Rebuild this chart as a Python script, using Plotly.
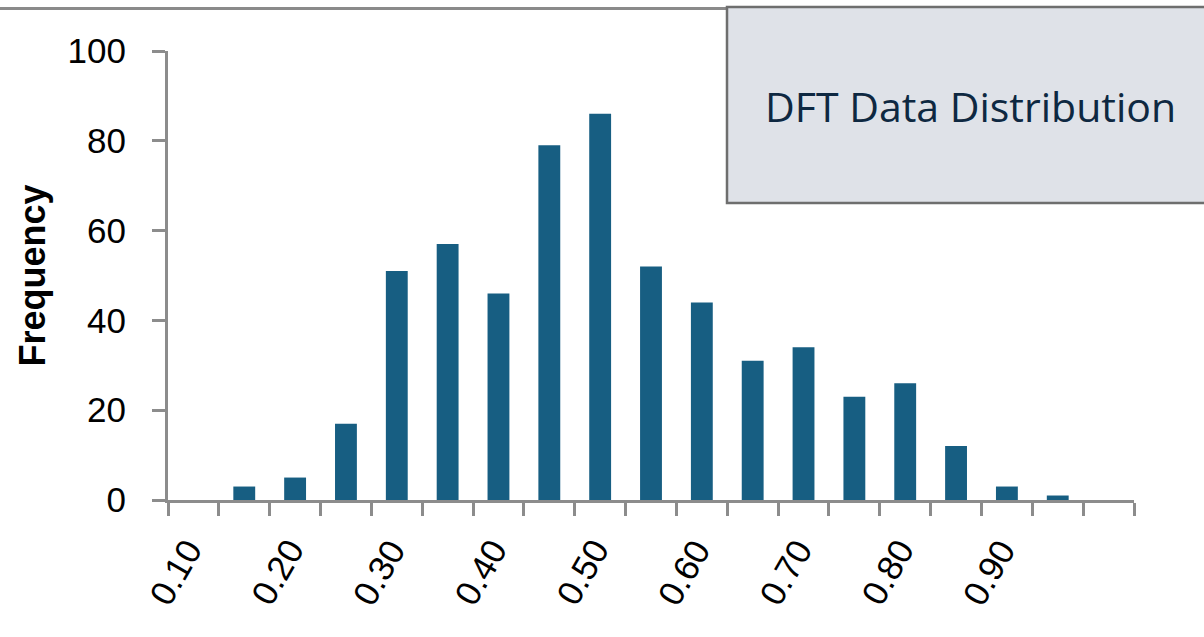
import plotly.graph_objects as go

# Bin edges (x axis ticks) and frequencies per bin
bin_edges = [0.10, 0.15, 0.20, 0.25, 0.30, 0.35, 0.40, 0.45, 0.50, 0.55,
             0.60, 0.65, 0.70, 0.75, 0.80, 0.85, 0.90, 0.95, 1.00, 1.05]
frequencies = [0, 3, 5, 17, 51, 57, 46, 79, 86, 52, 44, 31, 34, 23, 26, 12, 3, 1, 0]
label_values = [0.10, 0.20, 0.30, 0.40, 0.50, 0.60, 0.70, 0.80, 0.90]
label_texts = ["0.10", "0.20", "0.30", "0.40", "0.50", "0.60", "0.70", "0.80", "0.90"]
y_ticks = [0, 20, 40, 60, 80, 100]

W, H = 1204, 637
L, R, T, B = 168, 1134, 51, 500  # plot area in pixels


def px(x):
    return (x - L) / (R - L)


def py(y):
    return (B - y) / (B - T)


bin_w = bin_edges[1] - bin_edges[0]
centers = [e + bin_w / 2 for e in bin_edges[:-1]]

FONT = "Liberation Sans, Arial, sans-serif"

fig = go.Figure()
fig.add_trace(go.Bar(
    x=centers, y=frequencies, width=bin_w * 0.43,
    marker=dict(color="#175e82", line=dict(width=0)),
    showlegend=False,
))

axis_col = "#8c8c8c"
fig.update_layout(
    width=W, height=H,
    margin=dict(l=L, r=W - R, t=T, b=H - B, autoexpand=False),
    paper_bgcolor="white", plot_bgcolor="white",
    font=dict(family=FONT, color="black"),
    xaxis=dict(
        range=[bin_edges[0], bin_edges[-1]],
        tickvals=bin_edges, ticktext=["" for _ in bin_edges],
        ticks="outside", ticklen=13, tickwidth=3, tickcolor=axis_col,
        showline=True, linecolor=axis_col, linewidth=3,
        showgrid=False, zeroline=False,
    ),
    yaxis=dict(
        range=[0, 100], tickvals=y_ticks,
        ticks="outside", ticklen=13, tickwidth=3, tickcolor=axis_col,
        showline=True, linecolor=axis_col, linewidth=3,
        showgrid=False, zeroline=False,
        tickfont=dict(size=35, family=FONT),
        ticklabelstandoff=19,
        title=dict(text="<b>Frequency</b>", standoff=11,
                   font=dict(size=36, family=FONT)),
    ),
)

for v, t in zip(label_values, label_texts):
    fig.add_annotation(x=v, y=0, xref="x", yref="y", text=t, showarrow=False,
                       textangle=-60, xshift=7, yshift=-72,
                       font=dict(size=35, family=FONT, color="black"))

# top frame line
fig.add_shape(type="line", xref="paper", yref="paper",
              x0=px(0), x1=px(727), y0=py(8.5), y1=py(8.5),
              line=dict(color="#8a8a8a", width=3))

# title box
fig.add_shape(type="rect", xref="paper", yref="paper",
              x0=px(727), x1=px(1215), y0=py(203), y1=py(7),
              fillcolor="#dfe2e8", line=dict(color="#6e6e6e", width=2.5))
fig.add_annotation(xref="paper", yref="paper",
                   x=px(970), y=py(106), xanchor="center", yanchor="middle",
                   text="DFT Data Distribution", showarrow=False,
                   font=dict(size=41, family="Open Sans", color="#0e2841"))

fig.write_html("out.html", config={"displayModeBar": False},
               post_script="document.body.style.margin='0';")
